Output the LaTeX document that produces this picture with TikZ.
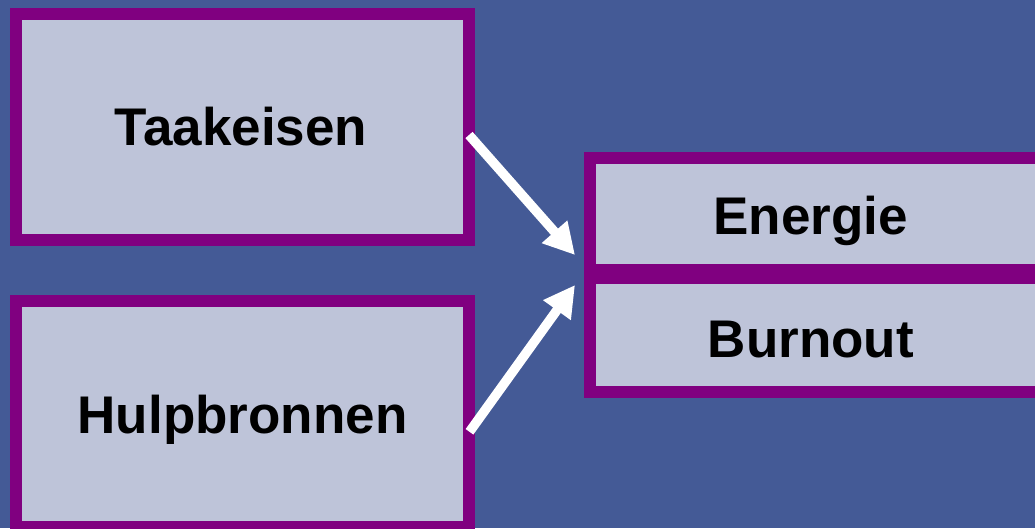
\documentclass[tikz,border=0pt]{standalone}
\usepackage{fontspec}
\setmainfont{Liberation Sans}
\usetikzlibrary{arrows.meta}
\definecolor{bgblue}{HTML}{445A96}
\definecolor{boxfill}{HTML}{BEC4D9}
\definecolor{boxline}{HTML}{800080}
\tikzset{
  box/.style={draw=boxline, fill=boxfill, line width=12pt, rectangle, inner sep=0pt},
  lbl/.style={font=\fontsize{53}{60}\selectfont\bfseries, text=black, text height=38pt, text depth=0pt, inner sep=0pt},
  arr/.style={draw=white, line width=9.5pt, -{Triangle[length=31pt,width=32pt]}}
}
\begin{document}
\begin{tikzpicture}[x=1pt,y=-1pt]
  \fill[bgblue] (0,0) rectangle (1035,528);
  \useasboundingbox (0,0) rectangle (1035,528);
  \begin{scope}
  \clip (0,0) rectangle (1035,528);
  \node[box, minimum width=453.5pt, minimum height=226.5pt] (T) at (242.25,126.75) {};
  \node[box, minimum width=453.5pt, minimum height=226.3pt] (H) at (242.25,414.2) {};
  \node[box, minimum width=470pt, minimum height=112.5pt] (E) at (825,213.75) {};
  \node[box, minimum width=470pt, minimum height=113.7pt] (B) at (825,334.85) {};
  \end{scope}
  \node[lbl] (tT) at (241,126) {Taakeisen};
  \node[lbl] (tH) at (242.5,414) {Hulpbronnen};
  \node[lbl] (tE) at (810.8,215) {Energie};
  \node[lbl] (tB) at (810.8,338.3) {Burnout};
  \coordinate (a1s) at (469,135);
  \coordinate (a1e) at (575,255);
  \coordinate (a2s) at (469.5,431.8);
  \coordinate (a2e) at (575,285);
  \draw[arr] (a1s) -- (a1e);
  \draw[arr] (a2s) -- (a2e);
\end{tikzpicture}
\end{document}
